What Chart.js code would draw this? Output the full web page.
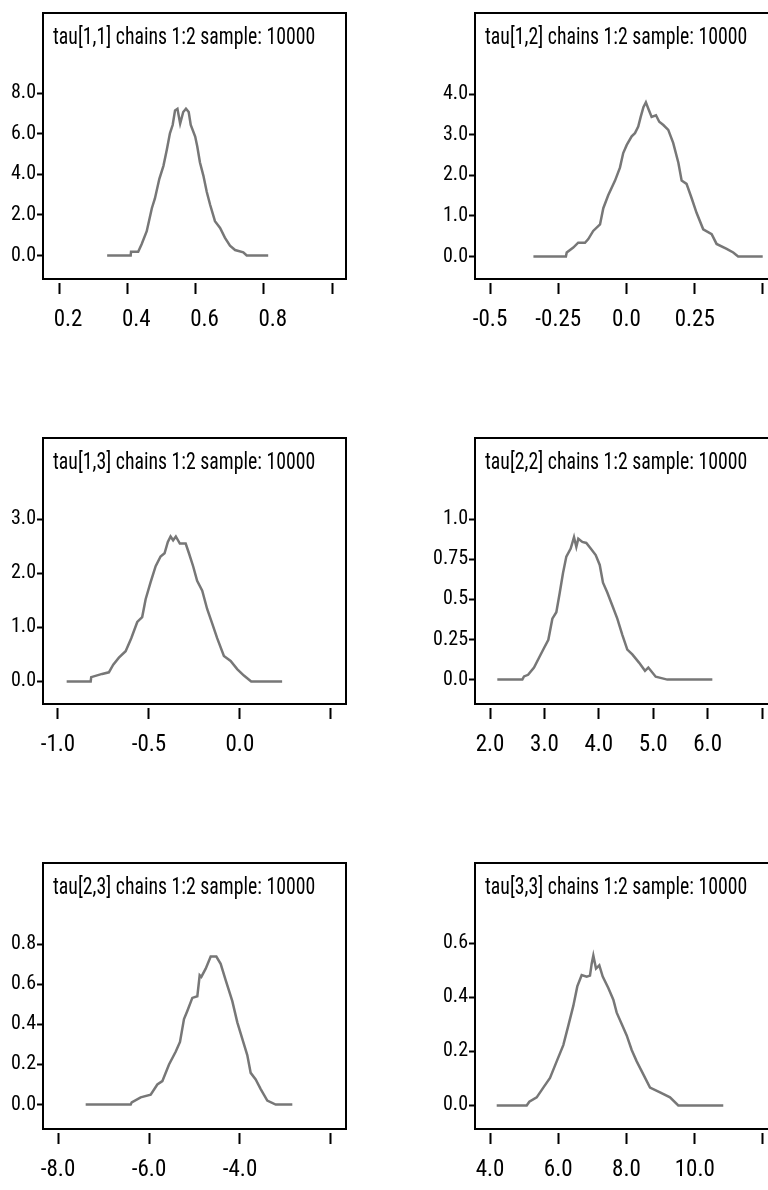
<!DOCTYPE html>
<html>
<head>
<meta charset="utf-8">
<title>tau densities</title>
<script src="https://cdn.jsdelivr.net/npm/chart.js@4.4.1/dist/chart.umd.min.js"></script>
<style>
	html, body { margin:0; padding:0; background:#fff; overflow:hidden; }
	#page { position:relative; width:768px; height:1190px; overflow:hidden; }
	#page canvas { position:absolute; }
	#tau11 { left:0; top:0; }
	#tau12 { left:432px; top:0; }
	#tau13 { left:0; top:425px; }
	#tau22 { left:432px; top:425px; }
	#tau23 { left:0; top:850px; }
	#tau33 { left:432px; top:850px; }
</style>
</head>
<body>
<div id="page">
	<canvas id="tau11" width="360" height="345"></canvas>
	<canvas id="tau12" width="360" height="345"></canvas>
	<canvas id="tau13" width="360" height="345"></canvas>
	<canvas id="tau22" width="360" height="345"></canvas>
	<canvas id="tau23" width="360" height="345"></canvas>
	<canvas id="tau33" width="360" height="345"></canvas>
</div>
<script>
// kernel density values
var tau11X = [0.341, 0.410, 0.411, 0.432, 0.442, 0.457, 0.472, 0.481, 0.494, 0.506, 0.516, 0.525, 0.533, 0.540, 0.547, 0.555, 0.564, 0.572, 0.580, 0.586, 0.599, 0.605, 0.613, 0.623, 0.633, 0.643, 0.657, 0.672, 0.686, 0.701, 0.716, 0.740, 0.750, 0.813];
var tau11Y = [0, 0, 0.19, 0.19, 0.56, 1.20, 2.33, 2.81, 3.78, 4.42, 5.22, 6.02, 6.43, 7.15, 7.23, 6.50, 7.07, 7.23, 7.07, 6.43, 5.86, 5.38, 4.58, 3.94, 3.13, 2.49, 1.69, 1.36, 0.88, 0.48, 0.27, 0.16, 0, 0];

var tau12X = [-0.341, -0.222, -0.219, -0.195, -0.177, -0.152, -0.140, -0.122, -0.097, -0.085, -0.067, -0.042, -0.024, -0.012, 0.001, 0.019, 0.031, 0.043, 0.052, 0.062, 0.071, 0.080, 0.092, 0.108, 0.120, 0.135, 0.153, 0.171, 0.190, 0.202, 0.220, 0.239, 0.257, 0.281, 0.312, 0.330, 0.367, 0.391, 0.409, 0.499];
var tau12Y = [0, 0, 0.10, 0.22, 0.34, 0.34, 0.43, 0.63, 0.79, 1.19, 1.51, 1.87, 2.19, 2.55, 2.75, 2.96, 3.04, 3.20, 3.44, 3.68, 3.80, 3.64, 3.44, 3.48, 3.32, 3.24, 3.12, 2.80, 2.31, 1.87, 1.79, 1.43, 1.07, 0.67, 0.55, 0.31, 0.19, 0.10, 0, 0];

var tau13X = [-0.952, -0.820, -0.817, -0.757, -0.720, -0.696, -0.665, -0.628, -0.597, -0.564, -0.537, -0.518, -0.491, -0.463, -0.436, -0.414, -0.396, -0.381, -0.367, -0.352, -0.330, -0.298, -0.280, -0.257, -0.235, -0.207, -0.180, -0.152, -0.125, -0.088, -0.051, -0.015, 0.022, 0.062, 0.232];
var tau13Y = [0, 0, 0.08, 0.14, 0.17, 0.31, 0.44, 0.56, 0.80, 1.10, 1.19, 1.52, 1.83, 2.13, 2.31, 2.37, 2.58, 2.68, 2.61, 2.68, 2.55, 2.55, 2.37, 2.13, 1.86, 1.68, 1.34, 1.07, 0.80, 0.47, 0.38, 0.23, 0.11, 0, 0];

var tau22X = [2.134, 2.594, 2.625, 2.700, 2.809, 2.901, 2.993, 3.072, 3.146, 3.219, 3.281, 3.342, 3.403, 3.483, 3.544, 3.587, 3.623, 3.697, 3.770, 3.851, 3.943, 4.017, 4.077, 4.156, 4.248, 4.340, 4.432, 4.524, 4.616, 4.739, 4.849, 4.910, 5.046, 5.259, 6.087];
var tau22Y = [0, 0, 0.02, 0.03, 0.075, 0.136, 0.197, 0.248, 0.38, 0.42, 0.54, 0.665, 0.767, 0.817, 0.888, 0.827, 0.878, 0.858, 0.852, 0.817, 0.776, 0.715, 0.604, 0.543, 0.462, 0.38, 0.279, 0.187, 0.157, 0.106, 0.055, 0.075, 0.018, 0, 0];

var tau23X = [-7.392, -6.402, -6.380, -6.183, -5.963, -5.817, -5.707, -5.560, -5.414, -5.319, -5.231, -5.158, -5.048, -4.938, -4.886, -4.850, -4.754, -4.644, -4.520, -4.425, -4.315, -4.169, -4.059, -3.949, -3.840, -3.765, -3.655, -3.545, -3.400, -3.216, -2.850];
var tau23Y = [0, 0, 0.011, 0.036, 0.049, 0.100, 0.117, 0.200, 0.263, 0.312, 0.426, 0.467, 0.532, 0.540, 0.645, 0.637, 0.678, 0.738, 0.738, 0.702, 0.621, 0.516, 0.410, 0.328, 0.247, 0.158, 0.125, 0.077, 0.020, 0, 0];

var tau33X = [4.196, 5.075, 5.152, 5.368, 5.562, 5.758, 5.954, 6.148, 6.295, 6.441, 6.558, 6.687, 6.833, 6.930, 6.980, 7.028, 7.106, 7.203, 7.303, 7.467, 7.614, 7.713, 7.859, 8.006, 8.152, 8.299, 8.493, 8.689, 8.982, 9.275, 9.518, 10.836];
var tau33Y = [0, 0, 0.014, 0.030, 0.066, 0.102, 0.163, 0.223, 0.295, 0.368, 0.440, 0.482, 0.476, 0.480, 0.524, 0.554, 0.506, 0.518, 0.476, 0.434, 0.391, 0.343, 0.301, 0.259, 0.205, 0.163, 0.115, 0.066, 0.048, 0.030, 0, 0];

// axis ticks and labels
var tau11XTicks = [0.2, 0.4, 0.6, 0.8, 1.0];
var tau11XLabels = ['0.2', '0.4', '0.6', '0.8', ''];
var tau11YTicks = [0, 2, 4, 6, 8];
var tau11YLabels = ['0.0', '2.0', '4.0', '6.0', '8.0'];

var tau12XTicks = [-0.5, -0.25, 0, 0.25, 0.5];
var tau12XLabels = ['-0.5', '-0.25', '0.0', '0.25', ''];
var tau12YTicks = [0, 1, 2, 3, 4];
var tau12YLabels = ['0.0', '1.0', '2.0', '3.0', '4.0'];

var tau13XTicks = [-1.0, -0.5, 0, 0.5];
var tau13XLabels = ['-1.0', '-0.5', '0.0', ''];
var tau13YTicks = [0, 1, 2, 3];
var tau13YLabels = ['0.0', '1.0', '2.0', '3.0'];

var tau22XTicks = [2, 3, 4, 5, 6, 7];
var tau22XLabels = ['2.0', '3.0', '4.0', '5.0', '6.0', ''];
var tau22YTicks = [0, 0.25, 0.5, 0.75, 1.0];
var tau22YLabels = ['0.0', '0.25', '0.5', '0.75', '1.0'];

var tau23XTicks = [-8, -6, -4, -2];
var tau23XLabels = ['-8.0', '-6.0', '-4.0', ''];
var tau23YTicks = [0, 0.2, 0.4, 0.6, 0.8];
var tau23YLabels = ['0.0', '0.2', '0.4', '0.6', '0.8'];

var tau33XTicks = [4, 6, 8, 10, 12];
var tau33XLabels = ['4.0', '6.0', '8.0', '10.0', ''];
var tau33YTicks = [0, 0.2, 0.4, 0.6];
var tau33YLabels = ['0.0', '0.2', '0.4', '0.6'];

// axis limits (data units at the plot frame)
var tau11XRange = [0.153, 1.041], tau11YRange = [-1.157, 11.95];
var tau12XRange = [-0.555, 0.555], tau12YRange = [-0.554, 6.0];
var tau13XRange = [-1.082, 0.583], tau13YRange = [-0.416, 4.5];
var tau22XRange = [1.724, 7.294], tau22YRange = [-0.152, 1.506];
var tau23XRange = [-8.33, -1.67], tau23YRange = [-0.122, 1.205];
var tau33XRange = [3.56, 12.44], tau33YRange = [-0.087, 0.896];

var fontFamily = "'Liberation Sans Narrow', 'Arial Narrow', 'Roboto Condensed', 'DejaVu Sans Condensed', sans-serif";
Chart.defaults.font.family = fontFamily;
Chart.defaults.color = '#000';

var panelBox = {
	id: 'panelBox',
	afterDatasetsDraw: function(chart, args, opts) {
		var a = chart.chartArea;
		var ctx = chart.ctx;
		ctx.save();
		ctx.lineWidth = 2;
		ctx.strokeStyle = '#000';
		ctx.strokeRect(a.left, a.top, a.right - a.left, a.bottom - a.top);
		// title sits inside the frame, squeezed a little like the original
		ctx.translate(a.left + 10, a.top + 25);
		ctx.scale(0.86, 1);
		ctx.fillStyle = '#000';
		ctx.font = '23px ' + fontFamily;
		ctx.textBaseline = 'middle';
		ctx.fillText(opts.text, 0, 0);
		ctx.restore();
	}
};

chartGenerator('tau11', densitySetting('tau[1,1] chains 1:2 sample: 10000', tau11X, tau11Y, tau11XRange, tau11YRange, tau11XTicks, tau11XLabels, tau11YTicks, tau11YLabels, 9));
chartGenerator('tau12', densitySetting('tau[1,2] chains 1:2 sample: 10000', tau12X, tau12Y, tau12XRange, tau12YRange, tau12XTicks, tau12XLabels, tau12YTicks, tau12YLabels, 0));
chartGenerator('tau13', densitySetting('tau[1,3] chains 1:2 sample: 10000', tau13X, tau13Y, tau13XRange, tau13YRange, tau13XTicks, tau13XLabels, tau13YTicks, tau13YLabels, 0));
chartGenerator('tau22', densitySetting('tau[2,2] chains 1:2 sample: 10000', tau22X, tau22Y, tau22XRange, tau22YRange, tau22XTicks, tau22XLabels, tau22YTicks, tau22YLabels, 0));
chartGenerator('tau23', densitySetting('tau[2,3] chains 1:2 sample: 10000', tau23X, tau23Y, tau23XRange, tau23YRange, tau23XTicks, tau23XLabels, tau23YTicks, tau23YLabels, 0));
chartGenerator('tau33', densitySetting('tau[3,3] chains 1:2 sample: 10000', tau33X, tau33Y, tau33XRange, tau33YRange, tau33XTicks, tau33XLabels, tau33YTicks, tau33YLabels, 0));

function chartGenerator(id, config) {
	var ctx = document.getElementById(id);
	var myChart = new Chart(ctx, config);
}

function pointsBuilder(xs, ys) {
	var points = [];
	for (var i = 0; i < xs.length; i++) {
		points.push({x: xs[i], y: ys[i]});
	}
	return points;
}

function tickSetter(values) {
	return function(scale) {
		scale.ticks = values.map(function(v) { return {value: v}; });
	};
}

function densitySetting(title, xs, ys, xRange, yRange, xTicks, xLabels, yTicks, yLabels, labelShift) {
	return {
		type: 'line',
		data: {
			datasets: [{
				label: title,
				data: pointsBuilder(xs, ys),
				borderColor: '#777777',
				borderWidth: 2.5,
				pointRadius: 0,
				fill: false,
				tension: 0
			}]
		},
		options: {
			responsive: false,
			animation: false,
			events: [],
			layout: {padding: {top: 7, right: 14, left: 0, bottom: 0}},
			plugins: {
				legend: {display: false},
				tooltip: {enabled: false},
				panelBox: {text: title}
			},
			scales: {
				x: {
					type: 'linear',
					min: xRange[0],
					max: xRange[1],
					afterBuildTicks: tickSetter(xTicks),
					afterFit: function(scale) { scale.height = 66; },
					border: {display: false},
					grid: {drawOnChartArea: false, drawTicks: true, tickLength: 15, tickWidth: 2, tickColor: '#000', tickBorderDash: [0, 4, 11, 40]},
					ticks: {
						autoSkip: false,
						maxRotation: 0,
						padding: 12,
						labelOffset: labelShift,
						font: {size: 23},
						callback: function(v, i) { return xLabels[i]; }
					}
				},
				y: {
					min: yRange[0],
					max: yRange[1],
					afterBuildTicks: tickSetter(yTicks),
					afterFit: function(scale) { scale.width = 43; },
					border: {display: false},
					grid: {drawOnChartArea: false, drawTicks: true, tickLength: 6, tickWidth: 2, tickColor: '#000'},
					ticks: {
						autoSkip: false,
						padding: 1,
						font: {size: 20},
						callback: function(v, i) { return yLabels[i]; }
					}
				}
			}
		},
		plugins: [panelBox]
	};
}
</script>
</body>
</html>
